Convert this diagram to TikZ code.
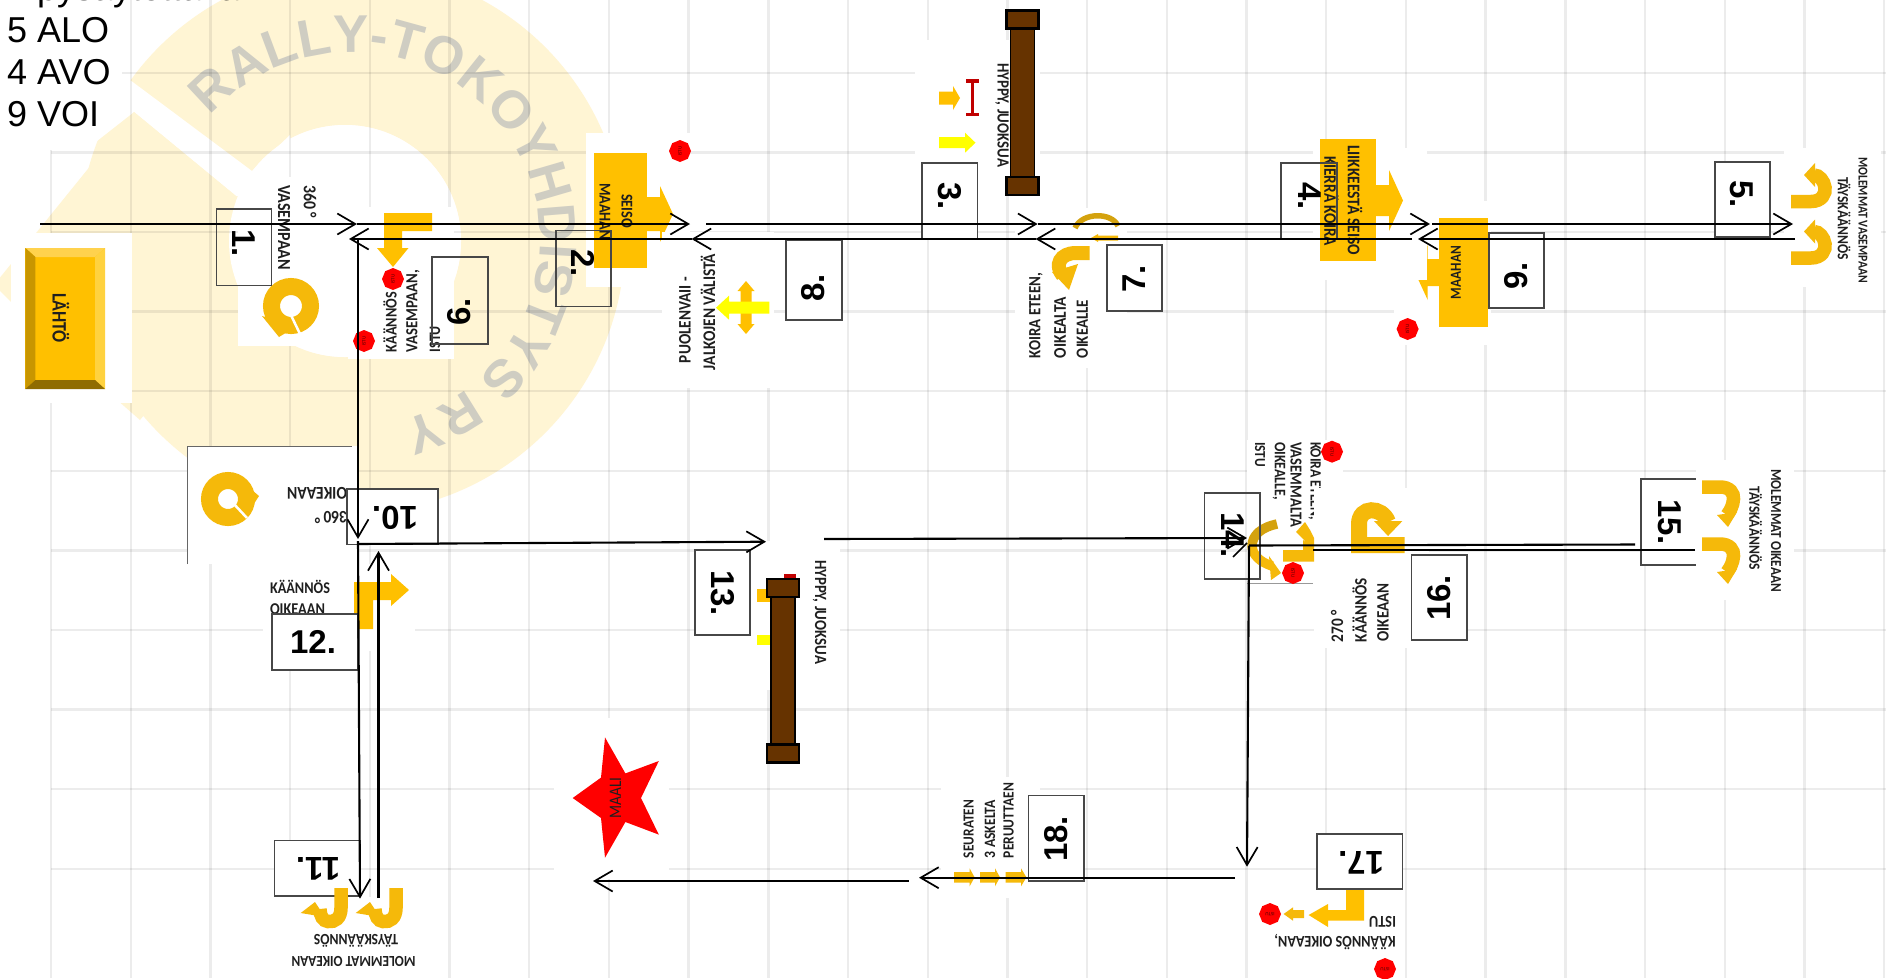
\documentclass[tikz,border=0pt]{standalone}
\usepackage{fontspec}
\usepackage{graphicx}
\usetikzlibrary{arrows.meta,shapes.geometric,decorations.text}
\setmainfont{Liberation Sans}
\newfontfamily\lblfont{Carlito}
\newfontfamily\wmfont{Liberation Sans}
\definecolor{ora}{HTML}{FFC000}
\definecolor{ugold}{HTML}{F5B90A}
\definecolor{dgold}{HTML}{D4A20E}
\definecolor{yel}{HTML}{FFFF00}
\definecolor{wmy}{HTML}{FFF5D4}
\definecolor{wmg}{HTML}{CFCDC2}
\definecolor{brn}{HTML}{663300}
\definecolor{btop}{HTML}{FFD24D}
\definecolor{bleft}{HTML}{C89600}
\definecolor{bright}{HTML}{FFD23F}
\definecolor{bbot}{HTML}{8F6C00}
\definecolor{dred}{HTML}{C00000}
\newcounter{tc}
\tikzset{
  lbl/.style={inner sep=0pt,font=\lblfont\bfseries,text=black!88},
  numlab/.style={inner sep=0pt,font=\bfseries\fontsize{33}{33}\selectfont,text=black},
  toptext/.style={inner sep=0pt,anchor=base west,font=\fontsize{36}{36}\selectfont},
  boxline/.style={draw=black!72,line width=1.1pt},
  conn/.style={draw=black,line width=2.1pt,-{Straight Barb[length=18pt,width=21pt,line width=1.7pt]}},
  plain/.style={draw=black,line width=2.1pt},
  stopsign/.style={regular polygon,regular polygon sides=8,shape border rotate=22.5,fill=red,inner sep=0pt,minimum size=22pt,font=\lblfont\fontsize{5}{5}\selectfont,text=black!70!red},
  patch/.style={fill=white},
  gridl/.style={draw=black,opacity=.075,line width=2.4pt}
}
\newcommand\tl[5]{\stepcounter{tc}\node[lbl,rotate=#3] (t\arabic{tc}) at (#1,#2) {\scalebox{1}[1.15]{\resizebox{#4pt}{!}{#5}}};}
\newcommand\stopat[3]{\stepcounter{tc}\node[stopsign] (s\arabic{tc}) at (#1,#2) {\rotatebox{#3}{ISTU}};}
% numbered box: x1 y1 x2 y2 fill cx cy rot text
\newcommand\numb[9]{\stepcounter{tc}\path[fill=#5] (#1,#2) rectangle (#3,#4);\draw[boxline] (#1,#2) rectangle (#3,#4);\node[numlab,rotate=#8] (n\arabic{tc}) at (#6,#7) {#9};}
\newcommand\harrow[7]{\fill[#7] (#1,#4-#5)--(#2,#4-#5)--(#2,#4-#6)--(#3,#4)--(#2,#4+#6)--(#2,#4+#5)--(#1,#4+#5)--cycle;}
\newcommand\varrow[7]{\fill[#7] (#4-#5,#1)--(#4-#5,#2)--(#4-#6,#2)--(#4,#3)--(#4+#6,#2)--(#4+#5,#2)--(#4+#5,#1)--cycle;}
% u-turn icons, three orientations
\newcommand\uiconA[2]{\begin{scope}[shift={(#1,#2)}]
  \draw[ugold,line width=13.5pt] (0,0)--(20,0) .. controls (31,0) and (35,-8) .. (34,-14) .. controls (33,-21) and (28,-26.5) .. (23,-26.5);
  \fill[ugold] (13,-26.5)--(24,-38.5)--(24,-14.5)--cycle;
\end{scope}}
\newcommand\uiconB[2]{\begin{scope}[shift={(#1,#2)}]
  \draw[ugold,line width=13.5pt] (0,0)--(0,20) .. controls (0,30) and (-6,34.5) .. (-13,33.5) .. controls (-18,33) and (-21,28) .. (-21,21);
  \fill[ugold] (-40.3,25)--(-26,14)--(-16,29)--cycle;
\end{scope}}
\newcommand\uiconC[2]{\begin{scope}[shift={(#1,#2)}]
  \draw[ugold,line width=13.5pt] (0,0)--(18,0) .. controls (28,0) and (32,6) .. (31.5,12) .. controls (31,19) and (28,24) .. (25,28);
  \fill[ugold] (15,28)--(26,40)--(35,25)--cycle;
\end{scope}}
\newcommand\hurdle[3]{% x-left of cap, y top of cap, length
  \fill[brn,draw=black,line width=1.8pt] (#1+4,#2+9) rectangle (#1+28,#2+#3-9);
  \fill[brn,draw=black,line width=2.6pt] (#1,#2) rectangle (#1+32,#2+18);
  \fill[brn,draw=black,line width=2.6pt] (#1,#2+#3-18) rectangle (#1+32,#2+#3);}
\begin{document}
\begin{tikzpicture}[x=1pt,y=-1pt]
\useasboundingbox (0,0) rectangle (1886,978);
\clip (0,0) rectangle (1886,978);
\fill[white] (0,0) rectangle (1886,978);
% ---- watermark
\fill[wmy] (352,240) circle[radius=273pt];
\fill[white] (345,241) circle[radius=116pt];
\fill[white] (100,57)--(122,74)--(252,171)--(290,135)--(300,200)--(236,196)--(134,112)--(60,170)--(0,290)--(0,0)--(60,0)--cycle;
\fill[wmy] (134,112)--(-6,285)--(60,350)--(140,420)--(236,300)--(236,196)--cycle;
\fill[white] (345,241) circle[radius=116pt];
\path[decorate,decoration={text along path,text align=center,text={|\wmfont\bfseries\fontsize{53}{53}\selectfont\color{wmg}|RALLY-TOKOYHDISTYS RY}}]
  (352,240) ++(142:188pt) arc[start angle=142,end angle=-78,radius=188pt];
% ---- grid
\foreach \k in {1,...,23}{\draw[gridl] ({51+79.7*\k},0)--({51+79.7*\k},978);}
\draw[gridl] (51,150)--(51,978);
\draw[gridl] (122,72.7)--(1886,72.7);
\foreach \k in {1,...,10}{\draw[gridl] (51,{72.7+79.6*\k})--(1886,{72.7+79.6*\k});}
% ---- top text
\node[toptext] (tt0) at (7,0.6) {7 pysäytettävä};
\node[toptext] (tt1) at (7,42.6) {5 ALO};
\node[toptext] (tt2) at (7,84.3) {4 AVO};
\node[toptext] (tt3) at (7,126) {9 VOI};
% ---- LAHTO
\fill[patch] (11,233) rectangle (132,403);
\fill[ora] (25.4,248) rectangle (105,389);
\fill[btop] (25.4,248)--(105,248)--(95,257)--(35.4,257)--cycle;
\fill[bleft] (25.4,248)--(35.4,257)--(35.4,380)--(25.4,389)--cycle;
\fill[bright] (105,248)--(95,257)--(95,380)--(105,389)--cycle;
\fill[bbot] (25.4,389)--(35.4,380)--(95,380)--(105,389)--cycle;
\tl{61}{318}{-90}{50}{LÄHTÖ}
% ---- 1
\fill[patch] (238,177) rectangle (348,346);
\tl{310}{201.5}{-90}{33}{360 °}
\tl{284}{227.5}{-90}{85}{VASEMPAAN}
\draw[ugold,line width=17pt] (291,306) circle[radius=19.5pt];
\fill[ugold] (262,316)--(279,337)--(297,326)--cycle;
\draw[white,line width=2.5pt] (288,309)--(301,336);
% ---- 6
\fill[patch] (348,207) rectangle (454,359);
\fill[ora] (384,213)--(432,213)--(432,231)--(402,231)--(402,248)--(408.5,248)--(393,267)--(377,248)--(384,248)--cycle;
\stopat{393}{279}{90}
\stopat{364}{341}{90}
\tl{390}{322}{90}{60}{KÄÄNNÖS}
\tl{413}{311}{90}{82}{VASEMPAAN,}
\tl{435}{339}{90}{26}{ISTU}
% ---- 2
\fill[patch] (586,133) rectangle (690,287);
\fill[ora] (594,153) rectangle (647,268);
\harrow{647}{660}{673}{214}{17}{28}{ora}
\stopat{680}{151}{90}
\tl{627}{211}{-90}{34}{SEISO}
\tl{605}{211.5}{-90}{57}{MAAHAN}
% ---- 8
\fill[patch] (662,232) rectangle (774,388);
\varrow{307}{291}{281}{746}{5.5}{8.5}{ora}
\varrow{307}{324}{334}{746}{5.5}{8.5}{ora}
\harrow{769.4}{729}{716}{307.7}{6}{12}{yel}
\tl{685}{320}{90}{86}{PUOLENVAII -}
\tl{708}{312}{90}{116}{JALKOJEN VÄLISTÄ}
% ---- 3
\fill[patch] (915,40) rectangle (1040,195);
\hurdle{1006.5}{10.7}{184.3}
\harrow{939}{953}{960}{98}{6.5}{12}{ora}
\harrow{939}{965}{975.5}{142.7}{5.5}{10}{yel}
\draw[dred,line width=2.8pt] (972.5,81)--(972.5,114.7);
\draw[dred,line width=3.4pt] (966,81)--(979,81) (966,114.7)--(979,114.7);
\tl{1002}{115}{-90}{104}{HYPPY, JUOKSUA}
% ---- 7
\fill[patch] (1015,208) rectangle (1127,368);
\draw[dgold,line width=5.5pt] (1075,228) .. controls (1082,212) and (1112,212) .. (1118,226);
\harrow{1118}{1098}{1091}{238}{2.5}{4}{ugold}
\draw[ugold,line width=14pt] (1089.5,253)--(1076,253) .. controls (1060,253) and (1054,265) .. (1063,276);
\fill[ugold] (1052,272)--(1069,290)--(1078,264)--cycle;
\tl{1036}{315.5}{90}{85}{KOIRA ETEEN,}
\tl{1060}{327.5}{90}{61}{OIKEALTA}
\tl{1082.4}{329}{90}{58}{OIKEALLE}
% ---- 9
\fill[patch] (1394,201) rectangle (1491,345);
\fill[ora] (1438.5,218) rectangle (1488,327);
\harrow{1439}{1427.7}{1415}{272.5}{13.5}{27.5}{ora}
\stopat{1407.6}{329}{90}
\tl{1456}{272.5}{90}{53}{MAAHAN}
% ---- 4
\fill[patch] (1313,148) rectangle (1427,280);
\fill[ora] (1320,139) rectangle (1375.5,261);
\harrow{1375}{1389}{1403}{200.5}{15.5}{30.5}{ora}
\tl{1355}{200}{-90}{110}{LIIKKEESTÄ SEISO}
\tl{1331.4}{201}{-90}{90}{KIERRÄ KOIRA}
% ---- 5
\fill[patch] (1784,148) rectangle (1881,287);
\uiconA{1791}{201.5}
\uiconA{1791}{258}
\tl{1863}{220}{-90}{126}{MOLEMMAT VASEMPAAN}
\tl{1844}{218.5}{-90}{83}{TÄYSKÄÄNNÖS}
% ---- 10
\fill[patch] (187,446) rectangle (358,564);
\draw[black!60,line width=.8pt] (187,564)--(187,446)--(352,446);
\draw[ugold,line width=17pt] (228,499) circle[radius=18.5pt];
\fill[ugold] (245,484)--(259,496)--(248,513)--cycle;
\draw[white,line width=2.5pt] (233,503)--(247,518);
\tl{317}{493}{180}{60}{OIKEAAN}
\tl{331}{518}{180}{32}{360 °}
% ---- 12
\fill[patch] (263,564) rectangle (415,651);
\fill[ora] (354,629)--(354,582)--(391,582)--(391,574)--(409,590)--(391,606)--(391,600)--(373,600)--(373,629)--cycle;
\tl{300}{587}{0}{60}{KÄÄNNÖS}
\tl{297.5}{609}{0}{55}{OIKEAAN}
% ---- 13
\fill[patch] (750,541) rectangle (840,690);
\fill[ora] (757,589) rectangle (770,601.5);
\fill[yel] (757,634.6) rectangle (772,645);
\fill[dred] (784,574) rectangle (796,580);
\hurdle{767}{579}{183.7}
\tl{819.6}{612}{-90}{104}{HYPPY, JUOKSUA}
% ---- star
\fill[patch] (554,718) rectangle (669,879);
\fill[red] (605,737.4)--(625.4,773.4)--(658.8,761)--(641,798)--(658.8,834.6)--(625.4,822)--(605,857.7)--(601,818)--(572.7,798)--(601,777.6)--cycle;
\tl{615.5}{798}{90}{41}{\mdseries MAALI}
% ---- 18
\fill[patch] (941,777) rectangle (1040,898);
\harrow{954}{969.6}{974.6}{877.3}{5.3}{9}{ugold}
\harrow{980}{995}{1000}{877.3}{5.3}{9}{ugold}
\harrow{1005.7}{1021}{1026.4}{877.3}{5.3}{9}{ugold}
\tl{968.6}{829}{90}{58}{SEURATEN}
\tl{990}{829}{90}{58}{3 ASKELTA}
\tl{1008.6}{820.5}{90}{75}{PERUUTTAEN}
% ---- 17
\fill[patch] (1251,889) rectangle (1403,978);
\fill[ora] (1346,886.7)--(1364,886.7)--(1364,920.7)--(1328,920.7)--(1328,927)--(1308.6,915)--(1328,904)--(1328,910)--(1346,910)--cycle;
\harrow{1304}{1293}{1283.6}{914}{4}{6.7}{ugold}
\stopat{1270}{914}{180}
\stopat{1385}{969}{180}
\tl{1382.5}{921.7}{180}{27}{ISTU}
\tl{1335}{941.7}{180}{121}{KÄÄNNÖS OIKEAAN,}
% ---- 14
\fill[patch] (1247,440) rectangle (1343,583);
\draw[black!40,line width=.8pt] (1247,583)--(1313,583);
\tl{1314.7}{481}{-90}{78}{KOIRA ETEEN,}
\tl{1296}{484.5}{-90}{85}{VASEMMALTA}
\tl{1279}{471}{-90}{58}{OIKEALLE,}
\tl{1260}{454.5}{-90}{25}{ISTU}
\stopat{1332}{451.7}{-90}
% ---- 16
\fill[patch] (1314,488) rectangle (1429,648);
\draw[ugold,line width=16pt] (1404.5,545)--(1359,545)--(1359,524) .. controls (1359,506) and (1382,506) .. (1388,522);
\fill[ugold] (1374,521)--(1388,536)--(1402.4,521)--cycle;
\tl{1337}{626}{90}{32}{270 °}
\tl{1359.6}{610}{90}{64}{KÄÄNNÖS}
\tl{1383}{612.5}{90}{58}{OIKEAAN}
% 14 icons
\draw[dgold,line width=9.5pt] (1277,524) .. controls (1262,527) and (1252,535) .. (1252,546);
\draw[ugold,line width=9.5pt] (1252,545) .. controls (1252,555) and (1260,562) .. (1272,566);
\fill[ugold] (1269,556)--(1281,573)--(1271,580)--cycle;
\fill[ugold] (1283,550)--(1303,550)--(1303,540)--(1307,543)--(1296,532)--(1305,522)--(1310,530)--(1314,538)--(1314,561.7)--(1283,561.7)--cycle;
\stopat{1293}{573}{-90}
% ---- number boxes
\numb{216.5}{209}{271.4}{285.7}{none}{244}{243}{-90}{1.}
\numb{556}{230.7}{611}{306.7}{none}{583}{263}{-90}{2.}
\numb{432}{257}{488}{344}{none}{459}{312}{90}{6.}
\numb{922}{163}{977.5}{239}{white}{950}{196}{-90}{3.}
\numb{786}{240.7}{842}{320}{white}{813}{288}{90}{8.}
\numb{1107}{245}{1162}{311}{white}{1134}{279}{90}{7.}
\numb{1281}{163}{1337}{239}{none}{1310}{196}{-90}{4.}
\numb{1715}{162}{1770}{237}{white}{1742}{194}{-90}{5.}
\numb{1489}{233}{1544}{308}{white}{1516}{276}{90}{9.}
\numb{347}{489}{438}{544.5}{white}{395}{518}{180}{10.}
\numb{272}{614}{357.5}{670}{white}{313}{642}{0}{12.}
\numb{274.5}{840.6}{360}{896}{white}{318}{869}{180}{11.}
\numb{695}{550}{750}{635}{white}{723}{593}{-90}{13.}
\numb{1204.5}{493}{1260}{579}{none}{1233}{535}{-90}{14.}
\numb{1641}{479}{1700}{565}{white}{1670}{522}{-90}{15.}
\numb{1411.4}{555}{1467}{640}{white}{1439}{598}{90}{16.}
\numb{1317}{834}{1402.5}{889}{white}{1361}{863}{180}{17.}
\numb{1028.6}{795.7}{1084}{881}{white}{1056}{839}{90}{18.}
% ---- 11 and 15 icons above boxes
\fill[patch] (285,897) rectangle (424,978);
\uiconB{341}{888}
\uiconB{396}{888}
\tl{356}{940.6}{180}{84}{TÄYSKÄÄNNÖS}
\tl{353.5}{961}{180}{124}{MOLEMMAT OIKEAAN}
\fill[patch] (1695.5,460) rectangle (1794,600);
\uiconC{1702}{487}
\uiconC{1702}{544}
\tl{1776}{530.5}{-90}{123}{MOLEMMAT OIKEAAN}
\tl{1755.5}{528}{-90}{83}{TÄYSKÄÄNNÖS}
% ---- connectors
\coordinate (a0) at (40,224);
\coordinate (a1) at (357,224);
\coordinate (a2) at (690,224);
\coordinate (a3s) at (706,224);
\coordinate (a3) at (1037.6,224);
\coordinate (a4) at (1430,224);
\coordinate (a5s) at (1432,224);
\coordinate (a5) at (1793,224);
\coordinate (b0) at (1795,239);
\coordinate (b1) at (1418,239);
\coordinate (b2s) at (1412,239);
\coordinate (b2) at (1035.6,239);
\coordinate (b3) at (691.5,239);
\coordinate (b4) at (349,239);
\coordinate (c0) at (358,239);
\coordinate (c1) at (358,539);
\coordinate (c1s) at (358,541);
\coordinate (c2) at (360,898.6);
\coordinate (d0) at (357.5,544);
\coordinate (d1) at (766,541.7);
\coordinate (e0) at (378.5,898);
\coordinate (e1) at (378.5,551);
\coordinate (f0) at (824,539);
\coordinate (f1) at (1247,538);
\coordinate (g0) at (1635,544.5);
\coordinate (g1) at (1249,545.5);
\coordinate (g2) at (1247,866.7);
\coordinate (h0) at (1695,550);
\coordinate (h1) at (1312.6,550);
\coordinate (i0) at (1235,877.7);
\coordinate (i1) at (919,877.7);
\coordinate (j0) at (908.6,881);
\coordinate (j1) at (593,881);
\coordinate (k0) at (1247,543);
\coordinate (k1) at (1233,557);
\draw[conn] (a0)--(a1);
\draw[conn] (a1)--(a2);
\draw[conn] (a3s)--(a3);
\draw[conn] (a3)--(a4);
\draw[conn] (a5s)--(a5);
\draw[conn] (b0)--(b1);
\draw[conn] (b2s)--(b2);
\draw[conn] (b2)--(b3);
\draw[conn] (b3)--(b4);
\draw[conn] (c0)--(c1);
\draw[conn] (c1s)--(c2);
\draw[conn] (d0)--(d1);
\draw[conn] (e0)--(e1);
\draw[conn] (f0)--(f1);
\draw[plain] (g0)--(g1);
\draw[conn] (g1)--(g2);
\draw[plain] (h0)--(h1);
\draw[conn] (i0)--(i1);
\draw[conn] (j0)--(j1);
\draw[plain,line width=1.7pt] (k0)--(k1);
\end{tikzpicture}
\end{document}
